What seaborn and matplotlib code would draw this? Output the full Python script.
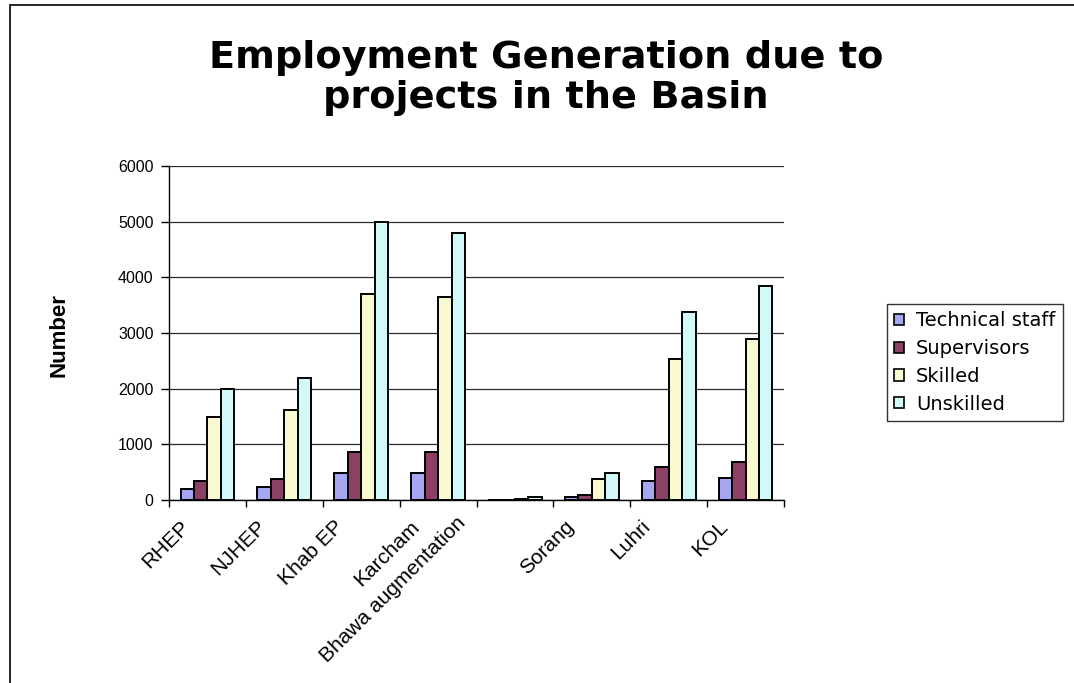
import matplotlib
matplotlib.use("Agg")
import matplotlib.pyplot as plt
from matplotlib.patches import Rectangle
from matplotlib.transforms import ScaledTranslation
import seaborn as sns
import pandas as pd

# ---- data ----
projects = ["RHEP", "NJHEP", "Khab EP", "Karcham", "Bhawa augmentation",
            "Sorang", "Luhri", "KOL"]
series_names = ["Technical staff", "Supervisors", "Skilled", "Unskilled"]
technical_staff = [200, 230, 490, 490, 0, 55, 340, 400]
supervisors = [345, 370, 855, 855, 0, 85, 600, 685]
skilled = [1500, 1620, 3700, 3640, 15, 370, 2530, 2900]
unskilled = [2000, 2190, 5000, 4800, 60, 490, 3385, 3840]
y_ticks = [0, 1000, 2000, 3000, 4000, 5000, 6000]

colors = ["#9999FF", "#993366", "#FFFFCC", "#CCFFFF"]

rows = []
for name, vals in zip(series_names, [technical_staff, supervisors, skilled, unskilled]):
    for p, v in zip(projects, vals):
        rows.append({"Project": p, "Category": name, "Number": v})
df = pd.DataFrame(rows)

sns.set_style("white")
plt.rcParams["font.family"] = ["DejaVu Sans"]
for k in ["text.color", "axes.labelcolor", "xtick.color", "ytick.color"]:
    plt.rcParams[k] = "black"

W, H = 1074, 683
fig = plt.figure(figsize=(W / 100, H / 100), dpi=100)
fig.patch.set_facecolor("white")

ax_left, ax_right, ax_top, ax_bottom = 169, 784, 166, 500
ax = fig.add_axes([ax_left / W, (H - ax_bottom) / H,
                   (ax_right - ax_left) / W, (ax_bottom - ax_top) / H])

sns.barplot(data=df, x="Project", y="Number", hue="Category", order=projects,
            hue_order=series_names, palette=colors, width=0.7,
            edgecolor="black", linewidth=1.4, ax=ax, legend=True, zorder=3)

ax.set_ylim(0, 6000)
ax.set_xlim(-0.5, len(projects) - 0.5)
ax.set_yticks(y_ticks)
ax.set_yticklabels([str(t) for t in y_ticks], fontsize=11.5,
                   family="Liberation Sans")
ax.yaxis.grid(True, color="#2a2a2a", linewidth=0.9, zorder=0)
ax.xaxis.grid(False)
ax.set_axisbelow(True)
for s in ["top", "right"]:
    ax.spines[s].set_visible(False)
for s in ["left", "bottom"]:
    ax.spines[s].set_color("black")
    ax.spines[s].set_linewidth(1.0)
ax.tick_params(axis="y", which="major", direction="out", length=6, width=1,
               color="black", pad=5, left=True)

# x ticks: labels at centres, tick marks at category boundaries
ax.set_xticks(range(len(projects)))
ax.set_xticks([i - 0.5 for i in range(len(projects) + 1)], minor=True)
ax.tick_params(axis="x", which="major", length=0, pad=17)
ax.tick_params(axis="x", which="minor", direction="out", length=5, width=1,
               color="black", bottom=True)
ax.set_xticklabels(projects, rotation=45, ha="right", va="center",
                   rotation_mode="anchor", fontsize=15, family="Liberation Sans")
for lab in ax.get_xticklabels():
    dx, dy = -21, 0
    if len(lab.get_text()) > 12:  # long label sits further left and higher
        dx, dy = -52, 4
    lab.set_transform(lab.get_transform() +
                      ScaledTranslation(dx / 100, dy / 100, fig.dpi_scale_trans))

ax.set_xlabel("")
ax.set_ylabel("")

# y label
fig.text(59 / W, 1 - 335 / H, "Number", rotation=90, ha="center", va="center",
         fontsize=16, fontweight="bold", family="Liberation Sans")

# title
fig.text(546 / W, 1 - 78 / H, "Employment Generation due to\nprojects in the Basin",
         ha="center", va="center", fontsize=27.5, fontweight="bold",
         linespacing=1.13)

# legend
handles, labels = ax.get_legend_handles_labels()
ax.get_legend().remove()
leg = fig.legend(handles, labels, loc="upper left",
                 bbox_to_anchor=(887 / W, 1 - 304 / H), borderaxespad=0,
                 frameon=True, fancybox=False, edgecolor="black", fontsize=14,
                 handlelength=0.5, handleheight=0.5, handletextpad=0.6,
                 labelspacing=0.45, borderpad=0.38)
leg.get_frame().set_linewidth(1.0)
for h in leg.legend_handles:
    h.set_edgecolor("black")
    h.set_linewidth(1.2)

# outer chart border
fig.add_artist(Rectangle((9.5 / W, -0.1), 1.2, (H - 5) / H + 0.1,
                         transform=fig.transFigure, fill=False,
                         edgecolor="black", linewidth=1.2))

fig.savefig("out.png", dpi=100, facecolor="white")
